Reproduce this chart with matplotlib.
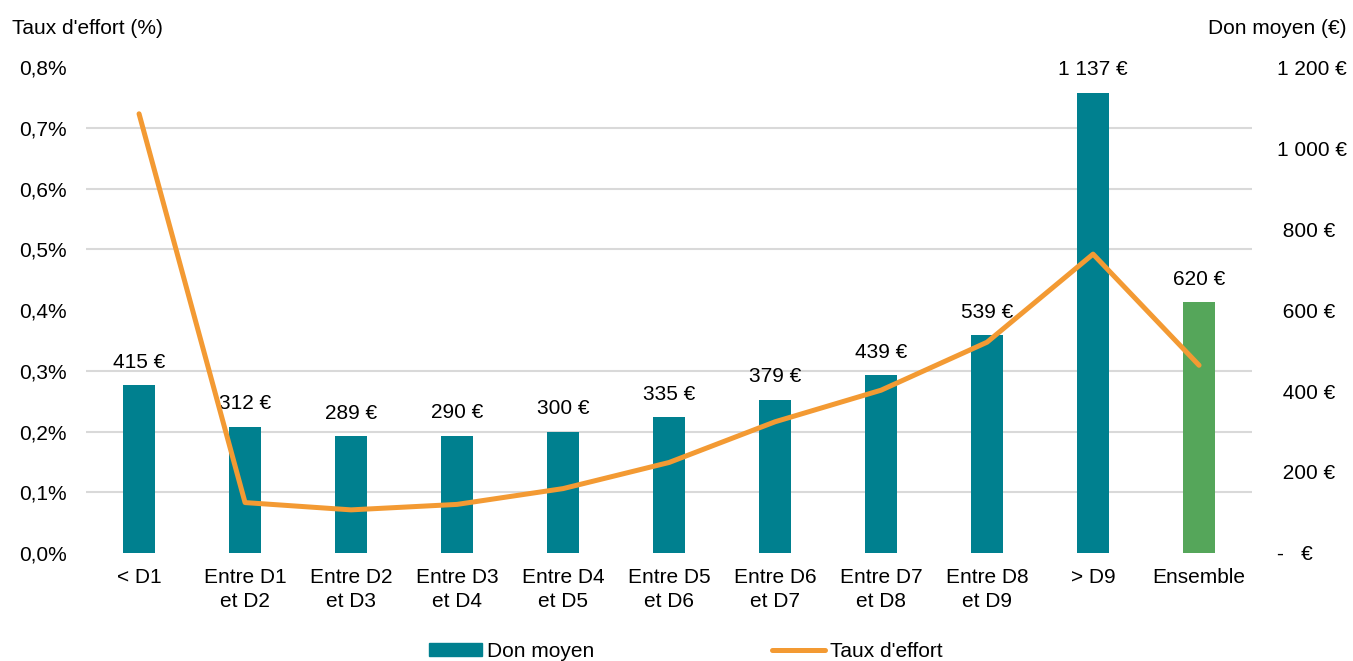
import matplotlib.pyplot as plt
from matplotlib.ticker import FuncFormatter, MultipleLocator
from matplotlib.patches import Patch
from matplotlib.lines import Line2D

plt.rcParams['font.family'] = ['Liberation Sans', 'DejaVu Sans']

# Données
categories = ["< D1", "Entre D1\net D2", "Entre D2\net D3", "Entre D3\net D4",
              "Entre D4\net D5", "Entre D5\net D6", "Entre D6\net D7",
              "Entre D7\net D8", "Entre D8\net D9", "> D9", "Ensemble"]
don_moyen = [415, 312, 289, 290, 300, 335, 379, 439, 539, 1137, 620]
taux_effort = [0.723, 0.083, 0.071, 0.080, 0.106, 0.149, 0.216, 0.268, 0.347, 0.492, 0.309]
euro_ticks = [0, 200, 400, 600, 800, 1000, 1200]
euro_labels = ["-   €", " 200 €", " 400 €", " 600 €", " 800 €", "1 000 €", "1 200 €"]

teal = '#00808F'
green = '#55A65A'
orange = '#F39A33'
grid_col = '#D9D9D9'
fs = 15

fig = plt.figure(figsize=(13.53, 6.61), dpi=100)
ax = fig.add_axes([0.0636, 0.1634, 0.8618, 0.7352])
ax2 = ax.twinx()

# Axe de droite : barres + grille
x = list(range(len(categories)))
colors = [teal] * (len(categories) - 1) + [green]
bars = ax2.bar(x, don_moyen, width=0.31, color=colors, zorder=3)
ax2.set_ylim(0, 1200)
ax2.set_yticks(euro_ticks)
ax2.set_yticklabels(euro_labels)
ax2.yaxis.set_minor_locator(MultipleLocator(150))
ax2.grid(which='minor', axis='y', color=grid_col, linewidth=1.5, zorder=0)
ax2.set_axisbelow(True)
ax2.tick_params(axis='y', which='both', length=0, labelsize=fs, pad=18)
labels = [f"{v:,}".replace(",", " ") + " €" for v in don_moyen]
ax2.bar_label(bars, labels=labels, padding=9.5, fontsize=fs)

# Axe de gauche : courbe
ax.plot(x, taux_effort, color=orange, linewidth=3.6, solid_joinstyle='round',
        solid_capstyle='round', zorder=5)
ax.set_ylim(0, 0.8)
ax.set_yticks([0.1 * i for i in range(9)])
ax.yaxis.set_major_formatter(FuncFormatter(lambda v, p: f"{v:.1f}%".replace(".", ",")))
ax.tick_params(axis='y', length=0, labelsize=fs, pad=14)
ax.set_xlim(-0.5, len(categories) - 0.5)
ax.set_xticks(x)
ax.set_xticklabels(categories, fontsize=fs, linespacing=1.3)
ax.tick_params(axis='x', length=0, pad=11)
ax.set_zorder(ax2.get_zorder() + 1)
ax.patch.set_visible(False)

for a in (ax, ax2):
    for s in a.spines.values():
        s.set_visible(False)

fig.text(12 / 1353, 1 - 28 / 661, "Taux d'effort (%)", fontsize=fs, va='center', ha='left')
fig.text(1347 / 1353, 1 - 28 / 661, "Don moyen (€)", fontsize=fs, va='center', ha='right')

handles = [Patch(color=teal), Line2D([0], [0], color=orange, linewidth=3.6, solid_capstyle='round')]
fig.legend(handles, ["Don moyen", "Taux d'effort"], loc='center', bbox_to_anchor=(0.507, 0.015),
           ncol=2, frameon=False, fontsize=fs, handlelength=2.55, handletextpad=0.25,
           columnspacing=8.5, handleheight=0.6)

fig.savefig("out.png", dpi=100)
